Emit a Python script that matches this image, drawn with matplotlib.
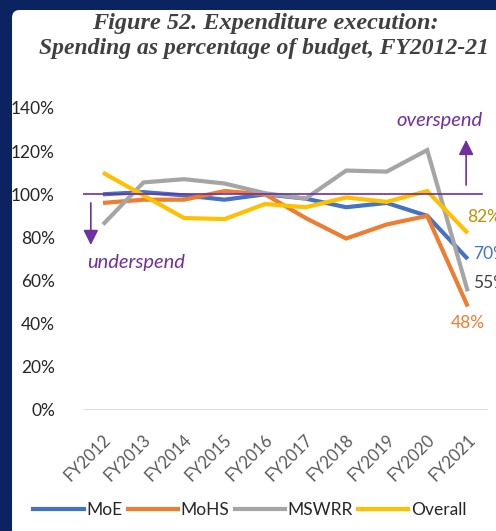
import matplotlib
matplotlib.use("Agg")
import matplotlib.pyplot as plt
import matplotlib.transforms as mtransforms
from matplotlib.patches import FancyBboxPatch
from matplotlib.lines import Line2D

# Spending as a share of budget (%), FY2012-FY2021
years = ["FY2012", "FY2013", "FY2014", "FY2015", "FY2016",
         "FY2017", "FY2018", "FY2019", "FY2020", "FY2021"]
moe = [100, 101, 99.5, 97.5, 100, 98, 94, 96, 90, 70]
mohs = [96, 97.5, 97.5, 101.5, 100, 89, 79.5, 86, 90, 48]
mswrr = [86, 105.5, 107, 105, 100.5, 98, 111, 110.5, 120.5, 55]
overall = [110, 99.5, 89, 88.5, 95.5, 94, 98.5, 96.5, 101.5, 82]
yticks = [0, 20, 40, 60, 80, 100, 120, 140]

series = [
    ("MoE", moe, "#4472C4", "#4472C4"),
    ("MoHS", mohs, "#ED7D31", "#ED7D31"),
    ("MSWRR", mswrr, "#A5A5A5", "#404040"),
    ("Overall", overall, "#FFC000", "#BF9000"),
]
PURPLE = "#7030A0"
NAVY = "#0B2461"
TXT = "#404040"
FONT = "Lato"

W, H = 496, 531
fig = plt.figure(figsize=(W / 100, H / 100), dpi=100)
fig.patch.set_facecolor(NAVY)

# white card on the navy background
card = FancyBboxPatch((12 / W, -0.05), 1.2, 1.05 - 10 / H,
                      boxstyle="round,pad=0,rounding_size=0.015",
                      transform=fig.transFigure, facecolor="white",
                      edgecolor="none", zorder=-10)
fig.patches.append(card)

fig.text(265 / W, 1 - 23 / H, "Figure 52. Expenditure execution:",
         ha="center", va="center", fontsize=17.5, fontweight="bold",
         fontstyle="italic", family="Liberation Serif", color=TXT)
fig.text(264 / W, 1 - 48 / H, "Spending as percentage of budget, FY2012-21",
         ha="center", va="center", fontsize=17, fontweight="bold",
         fontstyle="italic", family="Liberation Serif", color=TXT)

ax = fig.add_axes([82.7 / W, 121 / H, (488 - 82.7) / W, (423 - 121) / H])
ax.set_facecolor("none")
ax.set_zorder(5)
x = list(range(len(years)))

for name, vals, col, _ in series:
    ax.plot(x, vals, color=col, lw=3.0, solid_joinstyle="miter",
            solid_capstyle="butt", zorder=3, label=name)

ax.axhline(100, xmin=0.0, xmax=0.985, color=PURPLE, lw=1.2, zorder=4)
ax.axhline(0, color="#D9D9D9", lw=1.2, zorder=1)

ax.set_xlim(-0.5, len(years) - 0.5)
ax.set_ylim(0, 140)
ax.set_yticks(yticks)
ax.set_yticklabels([f"{v}%" for v in yticks], fontsize=12.5,
                   family=FONT, color="#262626")
ax.set_xticks(x)
ax.set_xticklabels(years, rotation=45, ha="right", va="center",
                   rotation_mode="anchor", fontsize=12, family=FONT,
                   color="#595959")
ax.tick_params(axis="both", length=0)
ax.tick_params(axis="y", pad=20)
ax.tick_params(axis="x", pad=19.5)
shift = mtransforms.ScaledTranslation(5 / 100, 0, fig.dpi_scale_trans)
for lab in ax.get_xticklabels():
    lab.set_transform(lab.get_transform() + shift)
for s in ax.spines.values():
    s.set_visible(False)

# end-of-series value labels
last = len(years) - 1
offsets = {"MoE": (5, 5, "left"), "MoHS": (0, -17, "center"),
           "MSWRR": (5, 8, "left"), "Overall": (-1, 16, "left")}
for name, vals, _, tcol in series:
    dx, dy, ha = offsets[name]
    ax.annotate(f"{vals[last]:.0f}%", (last, vals[last]),
                xytext=(dx, dy), textcoords="offset pixels",
                ha=ha, va="center", fontsize=12.5, family=FONT,
                color=tcol, annotation_clip=False)

# under/overspend markers
ax.annotate("", xy=(-0.30, 76.5), xytext=(-0.30, 96),
            arrowprops=dict(arrowstyle="-|>,head_length=0.6,head_width=0.3",
                            mutation_scale=15, lw=1.2, color=PURPLE,
                            shrinkA=0, shrinkB=0), zorder=5)
ax.text(-0.40, 68.6, "underspend", ha="left", va="center", fontsize=14.5,
        family=FONT, fontstyle="italic", color=PURPLE)
ax.annotate("", xy=(8.96, 125.2), xytext=(8.96, 104.3),
            arrowprops=dict(arrowstyle="-|>,head_length=0.6,head_width=0.3",
                            mutation_scale=15, lw=1.2, color=PURPLE,
                            shrinkA=0, shrinkB=0), zorder=5)
ax.text(9.36, 134.4, "overspend", ha="right", va="center", fontsize=14.5,
        family=FONT, fontstyle="italic", color=PURPLE)

handles = [Line2D([], [], color=c, lw=3.0) for _, _, c, _ in series]
leg = fig.legend(handles, [s[0] for s in series], loc="center",
                 bbox_to_anchor=(250 / W, 1 - 510 / H), ncol=4,
                 frameon=False, handlelength=2.9, handletextpad=0.15,
                 columnspacing=0.3, prop={"family": FONT, "size": 12.5})
for t in leg.get_texts():
    t.set_color("#262626")

fig.savefig("out.png", dpi=100, facecolor=fig.get_facecolor())
